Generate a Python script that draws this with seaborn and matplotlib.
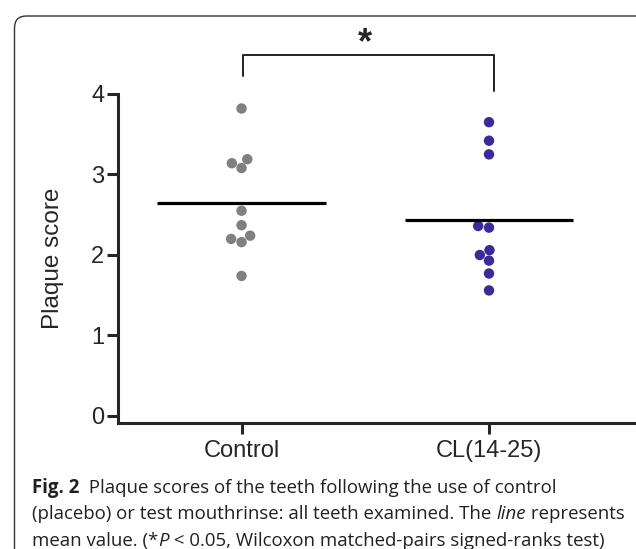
import numpy as np
import pandas as pd
import seaborn as sns
import matplotlib.pyplot as plt
from matplotlib.patches import FancyBboxPatch
from matplotlib.transforms import IdentityTransform

# plaque scores
groups = ["Control", "CL(14-25)"]
control_scores = [3.82, 3.14, 3.08, 3.19, 2.55, 2.37, 2.20, 2.16, 2.24, 1.74]
cl_scores = [3.65, 3.42, 3.25, 2.36, 2.34, 2.06, 2.00, 1.93, 1.77, 1.56]
y_ticks = [0, 1, 2, 3, 4]
colors = ["#808080", "#3b2b98"]

df = pd.DataFrame({
    "group": [groups[0]] * len(control_scores) + [groups[1]] * len(cl_scores),
    "score": control_scores + cl_scores,
})

sns.set_style("ticks")
plt.rcParams["font.family"] = ["Liberation Sans", "DejaVu Sans"]

fig = plt.figure(figsize=(6.36, 5.49), dpi=100)
ax = fig.add_axes([118.3 / 636, 126 / 549, 1 - 118.3 / 636, 329 / 549])

sns.swarmplot(data=df, x="group", y="score", hue="group", order=groups,
              palette=colors, size=7.5, legend=False, ax=ax, zorder=3)

# mean lines
for i, g in enumerate(groups):
    m = df.loc[df["group"] == g, "score"].mean()
    ax.hlines(m, i - 0.34, i + 0.34, color="black", lw=2.3, zorder=4)

ax.set_xlim(-0.498, 1.594)
ax.set_ylim(-0.087, 4.0)
ax.set_yticks(y_ticks)
ax.set_xlabel("")
ax.set_ylabel("Plaque score", fontsize=17.5, labelpad=20)
ax.tick_params(axis="both", labelsize=17, width=2.2, length=8, direction="out")
ax.tick_params(axis="y", pad=2)
ax.tick_params(axis="x", pad=4)
for s in ["left", "bottom"]:
    ax.spines[s].set_linewidth(2.2)
sns.despine(ax=ax)

# significance bracket
ax.plot([0.005, 0.005, 1.02, 1.02], [4.22, 4.49, 4.49, 4.04], color="#222222",
        lw=1.4, clip_on=False)
ax.text(0.5, 4.63, "*", ha="center", va="center", fontsize=26, fontweight="bold",
        clip_on=False)

# rounded panel frame
frame = FancyBboxPatch((14.5, -30), 700, 549 - 16 + 30,
                       boxstyle="round,pad=0,rounding_size=12",
                       transform=IdentityTransform(), fill=False,
                       edgecolor="#333333", lw=1.0)
fig.patches.append(frame)

# caption with mixed styles
cap_font = ["Open Sans", "DejaVu Sans"]
cap_size = 13.4
lines = [
    [("Fig. 2", "normal", "bold"), ("  Plaque scores of the teeth following the use of control", "normal", "normal")],
    [("(placebo) or test mouthrinse: all teeth examined. The ", "normal", "normal"), ("line", "italic", "normal"),
     (" represents", "normal", "normal")],
    [("mean value. (*", "normal", "normal"), ("P", "italic", "normal"),
     (" < 0.05, Wilcoxon matched-pairs signed-ranks test)", "normal", "normal")],
]
baselines = [492.7, 519.3, 546.0]
renderer = fig.canvas.get_renderer()
for runs, yb in zip(lines, baselines):
    x = 32
    for txt, style, weight in runs:
        t = fig.text(x / 636, 1 - yb / 549, txt, fontsize=cap_size, family=cap_font,
                     style=style, fontweight=weight, va="baseline", ha="left",
                     color="#231f20")
        x = t.get_window_extent(renderer).x1

fig.savefig("out.png", dpi=100)
